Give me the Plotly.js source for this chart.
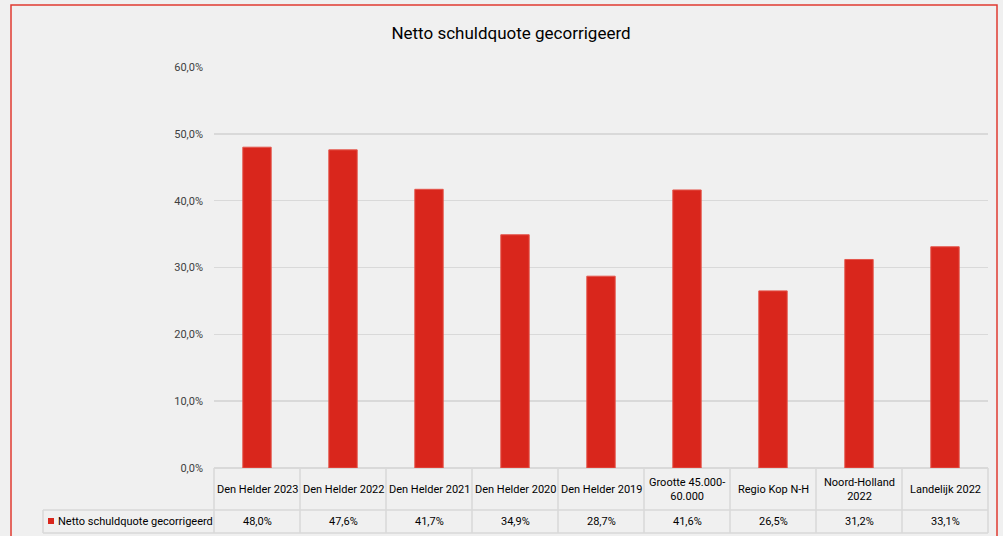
<!DOCTYPE html>
<html>
<head>
<meta charset="utf-8">
<script src="https://cdn.plot.ly/plotly-3.0.1.min.js"></script>
<style>
html,body{margin:0;padding:0;background:#f0f0f0;}
#chart{width:1003px;height:536px;}
</style>
</head>
<body>
<div id="chart"></div>
<script>
var categories = ["Den Helder 2023","Den Helder 2022","Den Helder 2021","Den Helder 2020","Den Helder 2019","Grootte 45.000-60.000","Regio Kop N-H","Noord-Holland 2022","Landelijk 2022"];
var headerLabels = ["Den Helder 2023","Den Helder 2022","Den Helder 2021","Den Helder 2020","Den Helder 2019","Grootte 45.000-<br>60.000","Regio Kop N-H","Noord-Holland<br>2022","Landelijk 2022"];
var values = [0.480,0.476,0.417,0.349,0.287,0.416,0.265,0.312,0.331];
var seriesName = "Netto schuldquote gecorrigeerd";
var chartTitle = "Netto schuldquote gecorrigeerd";

var FONT = 'Roboto, "Noto Sans", sans-serif';
var PL = 214, PR = 988, PT = 67, PB = 468, W = 1003, H = 536;
var pw = PR - PL, ph = PB - PT;
function px2x(px){ return (px - PL) / pw; }
function py2y(py){ return (PB - py) / ph; }

var gridColor = '#d9d9d9';
var rowMid = 510, rowBot = 533;
var n = categories.length;

var shapes = [];
// outer red border
shapes.push({type:'rect', xref:'paper', yref:'paper', x0:px2x(11), x1:px2x(997), y0:py2y(560), y1:py2y(5), line:{color:'#e03a30', width:1.5}, fillcolor:'rgba(0,0,0,0)', layer:'below'});
// table horizontal lines
shapes.push({type:'line', xref:'paper', yref:'paper', x0:px2x(43), x1:1, y0:py2y(rowMid), y1:py2y(rowMid), line:{color:gridColor, width:1.5}});
shapes.push({type:'line', xref:'paper', yref:'paper', x0:px2x(43), x1:1, y0:py2y(rowBot), y1:py2y(rowBot), line:{color:gridColor, width:1.5}});
// table vertical lines
for (var i = 0; i <= n; i++) {
  var xp = i / n;
  shapes.push({type:'line', xref:'paper', yref:'paper', x0:xp, x1:xp, y0:0, y1:py2y(rowBot), line:{color:gridColor, width:1.5}});
}
shapes.push({type:'line', xref:'paper', yref:'paper', x0:px2x(43), x1:px2x(43), y0:py2y(rowMid), y1:py2y(rowBot), line:{color:gridColor, width:1.5}});
// legend key square
shapes.push({type:'rect', xref:'paper', yref:'paper', x0:px2x(48), x1:px2x(54), y0:py2y(518), y1:py2y(524), line:{width:0}, fillcolor:'#d9261c'});

var annotations = [];
for (var j = 0; j < n; j++) {
  var xc = (j + 0.5) / n;
  annotations.push({xref:'paper', yref:'paper', x:xc, y:py2y(489), text:headerLabels[j], showarrow:false, xanchor:'center', yanchor:'middle', font:{family:FONT, size:11, color:'#000000'}});
  annotations.push({xref:'paper', yref:'paper', x:xc, y:py2y(521.5), text:(values[j]*100).toFixed(1).replace('.', ',') + '%', showarrow:false, xanchor:'center', yanchor:'middle', font:{family:FONT, size:11, color:'#000000'}});
}
annotations.push({xref:'paper', yref:'paper', x:px2x(56), y:py2y(521.5), text:seriesName, showarrow:false, xanchor:'left', yanchor:'middle', font:{family:FONT, size:11, color:'#000000'}});

var trace = {
  type:'bar', x:categories, y:values, name:seriesName,
  marker:{color:'#d9261c', line:{color:'#e4564c', width:1}},
  hoverinfo:'x+y'
};

var layout = {
  width:W, height:H,
  margin:{l:PL, r:W-PR, t:PT, b:H-PB, pad:0},
  paper_bgcolor:'#f0f0f0', plot_bgcolor:'#f0f0f0',
  separators:',.',
  showlegend:false,
  bargap:0.67,
  title:{text:chartTitle, x:511/W, xref:'container', xanchor:'center', y:1 - 33/H, yref:'container', yanchor:'middle', font:{family:FONT, size:17, color:'#000000'}},
  xaxis:{type:'category', showticklabels:false, showgrid:false, zeroline:false, showline:false, ticks:'', range:[-0.5, n-0.5]},
  yaxis:{range:[0,0.6], dtick:0.1, tickformat:'.1%', showgrid:true, gridcolor:gridColor, gridwidth:1.5, zeroline:true, zerolinecolor:gridColor, zerolinewidth:1.5, showline:false, ticks:'', ticklabelstandoff:10, tickfont:{family:FONT, size:11, color:'#404040'}},
  shapes:shapes,
  annotations:annotations
};

Plotly.newPlot('chart', [trace], layout, {displayModeBar:false, staticPlot:true});
</script>
</body>
</html>
